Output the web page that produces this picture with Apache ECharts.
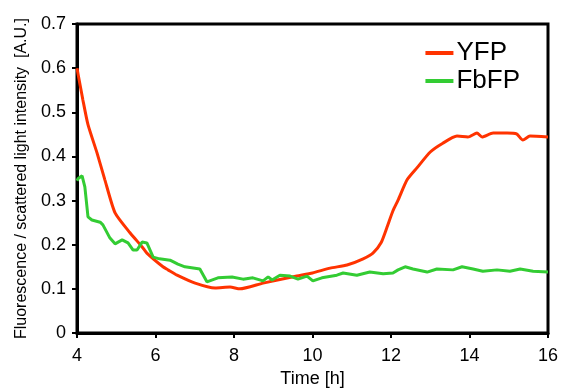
<!DOCTYPE html>
<html>
<head>
<meta charset="utf-8">
<script src="https://cdn.jsdelivr.net/npm/echarts@6/dist/echarts.min.js"></script>
<style>
  html, body { margin: 0; padding: 0; background: #fff; }
  #chart { width: 561px; height: 388px; }
</style>
</head>
<body>
<div id="chart"></div>
<script>
// values (time in hours)
const yfpTime = [4.0, 4.03, 4.15, 4.28, 4.51, 4.71, 4.97, 5.35, 5.66, 5.78, 6.19, 6.32, 6.55, 7.01, 7.52, 7.9, 8.15, 8.74, 9.6, 10.0, 10.45, 10.88, 11.29, 11.54, 11.75, 11.9, 12.05, 12.18, 12.41, 12.66, 13.0, 13.32, 13.68, 13.96, 14.19, 14.32, 14.6, 14.96, 15.2, 15.36, 15.54, 16.0];
const yfpValue = [0.60, 0.585, 0.528, 0.472, 0.408, 0.347, 0.272, 0.227, 0.195, 0.181, 0.150, 0.143, 0.131, 0.113, 0.102, 0.104, 0.100, 0.113, 0.129, 0.136, 0.147, 0.154, 0.168, 0.181, 0.205, 0.24, 0.277, 0.301, 0.347, 0.374, 0.41, 0.43, 0.446, 0.444, 0.453, 0.444, 0.453, 0.453, 0.451, 0.437, 0.446, 0.444];

const fbfpTime = [4.0, 4.03, 4.13, 4.2, 4.28, 4.38, 4.59, 4.66, 4.84, 4.97, 5.15, 5.3, 5.43, 5.53, 5.66, 5.78, 5.94, 6.1, 6.37, 6.57, 6.75, 7.13, 7.31, 7.59, 7.95, 8.23, 8.48, 8.74, 8.87, 8.97, 9.17, 9.43, 9.63, 9.86, 10.01, 10.24, 10.62, 10.78, 11.13, 11.46, 11.8, 12.05, 12.18, 12.36, 12.56, 12.92, 13.17, 13.58, 13.81, 14.09, 14.34, 14.7, 15.03, 15.29, 15.62, 16.0];
const fbfpValue = [0.345, 0.35, 0.356, 0.331, 0.263, 0.256, 0.251, 0.245, 0.215, 0.202, 0.211, 0.204, 0.188, 0.188, 0.206, 0.204, 0.172, 0.168, 0.165, 0.156, 0.150, 0.145, 0.116, 0.125, 0.127, 0.122, 0.125, 0.118, 0.127, 0.120, 0.131, 0.129, 0.122, 0.129, 0.118, 0.125, 0.131, 0.136, 0.131, 0.138, 0.134, 0.136, 0.143, 0.150, 0.145, 0.138, 0.145, 0.143, 0.150, 0.145, 0.140, 0.143, 0.140, 0.145, 0.140, 0.138];

const xTicks = [4, 6, 8, 10, 12, 14, 16];

const chart = echarts.init(document.getElementById('chart'));
const font = 'Liberation Sans, Arial, sans-serif';

const option = {
  animation: false,
  grid: {
    left: 77, right: 13, top: 24, bottom: 55,
    outerBoundsMode: 'none',
    show: true, borderColor: '#000', borderWidth: 3
  },
  legend: {
    orient: 'vertical',
    right: 36,
    top: 35,
    itemWidth: 28,
    itemHeight: 4,
    itemGap: 2,
    icon: 'rect',
    textStyle: { fontFamily: font, fontSize: 26, color: '#000', padding: [0, 0, 0, -2] },
    data: ['YFP', 'FbFP']
  },
  xAxis: {
    type: 'value',
    min: xTicks[0],
    max: xTicks[xTicks.length - 1],
    interval: 2,
    name: 'Time [h]',
    nameLocation: 'middle',
    nameGap: 37,
    nameTextStyle: { fontFamily: font, fontSize: 18, color: '#000' },
    axisLine: { lineStyle: { color: '#000', width: 3 } },
    axisTick: { show: true, length: 5, lineStyle: { color: '#000', width: 2 } },
    axisLabel: { fontFamily: font, fontSize: 18, color: '#000', margin: 14 },
    splitLine: { show: false }
  },
  yAxis: {
    type: 'value',
    min: 0,
    max: 0.7,
    interval: 0.1,
    name: 'Fluorescence / scattered light intensity  [A.U.]',
    nameLocation: 'middle',
    nameGap: 47,
    nameTextStyle: { fontFamily: font, fontSize: 16, color: '#000' },
    axisLine: { lineStyle: { color: '#000', width: 3 } },
    axisTick: { show: true, length: 5, lineStyle: { color: '#000', width: 2 } },
    axisLabel: { fontFamily: font, fontSize: 18, color: '#000', margin: 11 },
    splitLine: { show: false }
  },
  series: [
    {
      name: 'YFP',
      type: 'line',
      data: yfpTime.map((t, i) => [t, yfpValue[i]]),
      showSymbol: false,
      smooth: 0.2,
      lineStyle: { color: '#ff3300', width: 3 },
      itemStyle: { color: '#ff3300' }
    },
    {
      name: 'FbFP',
      type: 'line',
      data: fbfpTime.map((t, i) => [t, fbfpValue[i]]),
      showSymbol: false,
      lineStyle: { color: '#33cc33', width: 3 },
      itemStyle: { color: '#33cc33' }
    }
  ]
};

chart.setOption(option);
</script>
</body>
</html>
